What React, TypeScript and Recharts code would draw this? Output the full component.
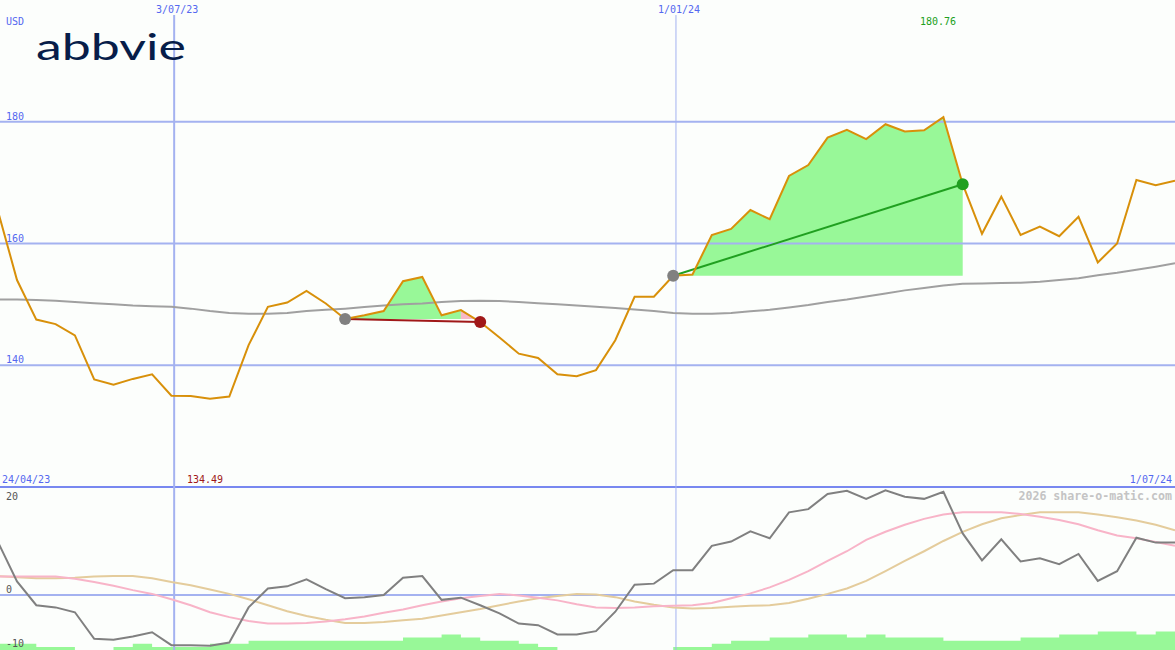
import React from 'react';
import { ComposedChart, Line, Area, XAxis, YAxis, ReferenceLine } from 'recharts';

// weekly closes, starting the week of 30/04/23
const price = [
  165.5, 154.0, 147.5, 146.75, 144.9, 137.65, 136.8, 137.75, 138.5, 135.0,
  134.95, 134.49, 134.85, 143.3, 149.6, 150.3, 152.2, 150.15, 147.6, 148.2,
  148.9, 153.8, 154.5, 148.2, 149.05, 147.1, 144.55, 141.9, 141.2, 138.5,
  138.2, 139.2, 144.1, 151.25, 151.25, 154.7, 154.9, 161.4, 162.4, 165.5,
  164.0, 171.1, 172.9, 177.4, 178.7, 177.15, 179.6, 178.4, 178.6, 180.76,
  169.75, 161.6, 167.7, 161.4, 162.8, 161.2, 164.4, 156.9, 160.0, 170.45,
  169.6, 170.3,
];

const movingAvg = [
  150.8, 150.8, 150.7, 150.6, 150.4, 150.2, 150.0, 149.8, 149.7, 149.6,
  149.3, 148.9, 148.6, 148.45, 148.45, 148.6, 148.9, 149.1, 149.3, 149.55,
  149.8, 150.0, 150.15, 150.4, 150.55, 150.6, 150.55, 150.4, 150.2, 150.0,
  149.8, 149.6, 149.4, 149.15, 148.9, 148.6, 148.45, 148.45, 148.6, 148.85,
  149.1, 149.5, 149.9, 150.4, 150.8, 151.3, 151.8, 152.3, 152.7, 153.1,
  153.4, 153.45, 153.5, 153.55, 153.7, 154.0, 154.3, 154.8, 155.2, 155.7,
  156.2, 156.75,
];

// lower panel
const momentum = [
  9.9, 2.5, -1.9, -2.3, -3.2, -8.1, -8.3, -7.7, -6.9, -9.3,
  -9.3, -9.4, -8.8, -2.3, 1.2, 1.6, 2.9, 1.1, -0.6, -0.4,
  0, 3.2, 3.5, -0.9, -0.5, -1.9, -3.4, -5.3, -5.6, -7.3,
  -7.3, -6.7, -3.1, 1.9, 2.1, 4.6, 4.6, 9.1, 9.9, 11.8,
  10.5, 15.3, 15.9, 18.7, 19.3, 17.8, 19.4, 18.2, 17.8, 19.1,
  11.4, 6.4, 10.3, 6.2, 6.8, 5.7, 7.6, 2.6, 4.4, 10.6,
  9.7, 9.7,
];

const signalFast = [
  3.4, 3.4, 3.4, 3.4, 3.0, 2.4, 1.7, 0.9, 0.2, -0.8,
  -1.9, -3.2, -4.1, -4.8, -5.3, -5.3, -5.2, -4.9, -4.5, -4.0,
  -3.3, -2.7, -1.9, -1.2, -0.6, -0.2, 0.2, -0.1, -0.5, -1.0,
  -1.7, -2.3, -2.4, -2.3, -2.1, -2.0, -1.9, -1.5, -0.6, 0.3,
  1.4, 2.8, 4.4, 6.3, 8.1, 10.2, 11.7, 13.0, 14.1, 14.9,
  15.3, 15.3, 15.3, 15.0, 14.5, 13.9, 13.1, 12.0, 11.0, 10.5,
  9.8, 9.1,
];

const signalSlow = [
  3.5, 3.3, 3.1, 3.1, 3.2, 3.4, 3.5, 3.5, 3.1, 2.4,
  1.8, 1.0, 0.2, -0.8, -1.9, -3.0, -3.9, -4.6, -5.2, -5.2,
  -5.0, -4.7, -4.4, -3.8, -3.2, -2.6, -1.9, -1.2, -0.6, -0.2,
  0.2, 0.1, -0.4, -1.2, -1.8, -2.3, -2.5, -2.4, -2.2, -2.0,
  -1.9, -1.5, -0.7, 0.2, 1.2, 2.6, 4.4, 6.3, 8.1, 10.0,
  11.7, 13.1, 14.2, 14.8, 15.3, 15.3, 15.3, 14.9, 14.4, 13.8,
  13.0, 12.0,
];

// weekly volume, millions
const volume = [
  10, 10, 5, 5, 0, 0, 5, 10, 5, 5,
  5, 10, 10, 15, 15, 15, 15, 15, 15, 15,
  15, 20, 20, 25, 20, 15, 15, 10, 5, 0,
  0, 0, 0, 0, 0, 5, 5, 10, 15, 15,
  20, 20, 25, 25, 20, 25, 20, 20, 20, 15,
  15, 15, 15, 20, 20, 25, 25, 30, 30, 25,
  30, 30,
];

const trades = [
  { buyIdx: 18, sellIdx: 25 },
  { buyIdx: 35, sellIdx: 50 },
];

const priceTicks = [180, 160, 140];
const oscTicks = [20, 0, -10];
const markedDates = ['2023-07-03', '2024-01-01'];
const markedLabels = ['3/07/23', '1/01/24'];
const periodStart = '24/04/23';
const periodEnd = '1/07/24';
const firstWeek = '2023-04-30';

const MONO = '"DejaVu Sans Mono", "Liberation Mono", monospace';
const BLUE_TEXT = '#5468f0';
const GRID = '#a4b2f0';
const GAIN_FILL = '#98f898';
const LOSS_FILL = '#f8b8c8';
const GAIN = '#20a020';
const LOSS = '#a01818';

const W = 1175;
const H = 650;

const dayOf = (s: string) => (Date.parse(s) - Date.parse(firstWeek)) / 86400000;

const rows = price.map((p, i) => {
  const row: any = {
    day: i * 7,
    price: p,
    ma: movingAvg[i],
    mom: momentum[i],
    fast: signalFast[i],
    slow: signalSlow[i],
    vol: volume[i],
  };
  trades.forEach((t, k) => {
    const buy = price[t.buyIdx];
    const inTrade = i >= t.buyIdx && i <= t.sellIdx;
    const segGain = (a: number) => a >= t.buyIdx && a < t.sellIdx && price[a + 1] >= buy;
    const segLoss = (a: number) => a >= t.buyIdx && a < t.sellIdx && price[a + 1] < buy;
    row[`gain${k}`] = inTrade && (segGain(i) || segGain(i - 1)) ? [buy, p] : null;
    row[`loss${k}`] = inTrade && (segLoss(i) || segLoss(i - 1)) ? [buy, p] : null;
    row[`trade${k}`] = i === t.buyIdx || i === t.sellIdx ? p : null;
  });
  return row;
});

const GridLabel = ({ viewBox, text, color, dy }: any) => {
  if (!viewBox) return null;
  return (
    <text x={viewBox.x + 6} y={viewBox.y + dy} fill={color} fontSize={10} fontFamily={MONO}>
      {text}
    </text>
  );
};

const DateLabel = ({ viewBox, text }: any) => {
  if (!viewBox) return null;
  return (
    <text x={viewBox.x + 3} y={13} fill={BLUE_TEXT} fontSize={10} fontFamily={MONO} textAnchor="middle">
      {text}
    </text>
  );
};

const tradeDot = (k: number) => (props: any) => {
  const { cx, cy, index, value } = props;
  if (cx == null || cy == null || value == null) return <g key={`d${k}-${index}`} />;
  const t = trades[k];
  const won = price[t.sellIdx] >= price[t.buyIdx];
  const fill = index === t.buyIdx ? '#808080' : won ? GAIN : LOSS;
  return <circle key={`d${k}-${index}`} cx={cx} cy={cy} r={6} fill={fill} stroke="none" />;
};

export default function App() {
  const maxIdx = price.indexOf(Math.max(...price));
  const minIdx = price.indexOf(Math.min(...price));

  return (
    <div style={{ position: 'absolute', left: 0, top: 0, width: W, height: H, background: '#fcfefc', overflow: 'hidden' }}>
      <ComposedChart width={W} height={H} data={rows} margin={{ top: 0, right: 0, bottom: 0, left: 0 }}>
        <XAxis dataKey="day" type="number" domain={[0.834, 427]} allowDataOverflow hide />
        <YAxis yAxisId="p" type="number" domain={[93.2, 200.02]} allowDataOverflow hide />
        <YAxis yAxisId="o" type="number" domain={[-10.19, 110.19]} allowDataOverflow hide />
        <YAxis yAxisId="v" type="number" domain={[0, 1048]} allowDataOverflow hide />

        {priceTicks.map((v) => (
          <ReferenceLine
            key={`p${v}`}
            yAxisId="p"
            y={v}
            stroke={GRID}
            strokeWidth={2}
            label={<GridLabel text={String(v)} color={BLUE_TEXT} dy={-2} />}
          />
        ))}
        {oscTicks.map((v) => (
          <ReferenceLine
            key={`o${v}`}
            yAxisId="o"
            y={v}
            stroke={v === 20 ? '#7888f0' : v === 0 ? GRID : 'none'}
            strokeWidth={2}
            label={<GridLabel text={String(v)} color="#555" dy={v === 20 ? 13 : -2} />}
          />
        ))}
        {markedDates.map((d, i) => (
          <ReferenceLine
            key={d}
            yAxisId="o"
            segment={[
              { x: dayOf(d), y: 107.4 },
              { x: dayOf(d), y: -10.19 },
            ]}
            stroke={GRID}
            strokeWidth={i === 0 ? 2 : 1}
            label={<DateLabel text={markedLabels[i]} />}
          />
        ))}

        <Area yAxisId="v" dataKey="vol" type="stepAfter" fill={GAIN_FILL} fillOpacity={1} stroke="none" isAnimationActive={false} />

        {trades.map((_, k) => (
          <Area key={`g${k}`} yAxisId="p" dataKey={`gain${k}`} type="linear" fill={GAIN_FILL} fillOpacity={1} stroke="none" isAnimationActive={false} />
        ))}
        {trades.map((_, k) => (
          <Area key={`l${k}`} yAxisId="p" dataKey={`loss${k}`} type="linear" fill={LOSS_FILL} fillOpacity={1} stroke="none" isAnimationActive={false} />
        ))}

        <Line yAxisId="p" dataKey="ma" stroke="#a0a0a0" strokeWidth={2} dot={false} activeDot={false} isAnimationActive={false} />

        <Line yAxisId="o" dataKey="slow" stroke="#e4cc9c" strokeWidth={2} dot={false} activeDot={false} isAnimationActive={false} />
        <Line yAxisId="o" dataKey="fast" stroke="#f8b4c8" strokeWidth={2} dot={false} activeDot={false} isAnimationActive={false} />
        <Line yAxisId="o" dataKey="mom" stroke="#808080" strokeWidth={2} dot={false} activeDot={false} isAnimationActive={false} />

        {trades.map((t, k) => (
          <Line
            key={`t${k}`}
            yAxisId="p"
            dataKey={`trade${k}`}
            stroke={price[t.sellIdx] >= price[t.buyIdx] ? GAIN : LOSS}
            strokeWidth={2}
            connectNulls
            dot={tradeDot(k)}
            activeDot={false}
            isAnimationActive={false}
          />
        ))}

        <Line yAxisId="p" dataKey="price" stroke="#d8900a" strokeWidth={2} dot={false} activeDot={false} isAnimationActive={false} />
      </ComposedChart>

      <svg width={W} height={H} style={{ position: 'absolute', left: 0, top: 0, pointerEvents: 'none' }}>
        <text x={6} y={25} fill={BLUE_TEXT} fontSize={10} fontFamily={MONO}>USD</text>
        <text
          x={36}
          y={60}
          fill="#071d49"
          fontSize={36}
          fontFamily="Lato, 'Open Sans', sans-serif"
          fontWeight={400}
          textLength={150}
          lengthAdjust="spacingAndGlyphs"
        >
          abbvie
        </text>
        <text x={2} y={483} fill={BLUE_TEXT} fontSize={10} fontFamily={MONO}>{periodStart}</text>
        <text x={1172} y={483} fill={BLUE_TEXT} fontSize={10} fontFamily={MONO} textAnchor="end">{periodEnd}</text>
        <text x={938} y={25} fill={GAIN} fontSize={10} fontFamily={MONO} textAnchor="middle">
          {price[maxIdx].toFixed(2)}
        </text>
        <text x={205} y={483} fill={LOSS} fontSize={10} fontFamily={MONO} textAnchor="middle">
          {price[minIdx].toFixed(2)}
        </text>
        <text x={1172} y={500} fill="#c4c4c4" fontSize={11.6} fontWeight="bold" fontFamily={MONO} textAnchor="end">
          2026 share-o-matic.com
        </text>
      </svg>
    </div>
  );
}
